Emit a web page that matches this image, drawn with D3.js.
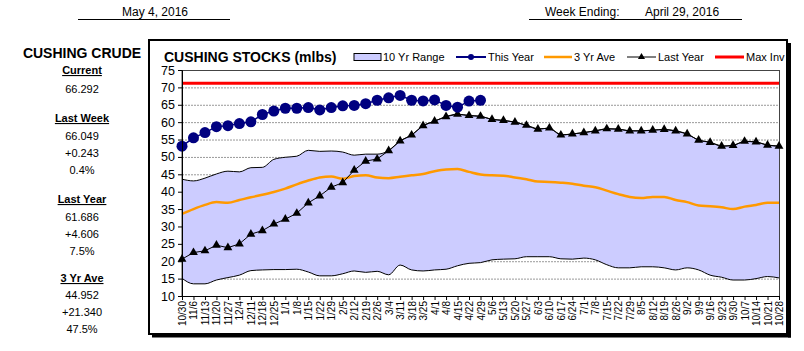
<!DOCTYPE html>
<html><head><meta charset="utf-8">
<script src="https://cdn.jsdelivr.net/npm/d3@7/dist/d3.min.js"></script>
<style>
body{margin:0;background:#fff;}
svg{display:block;font-family:"Liberation Sans",Arial,Helvetica,sans-serif;}
</style></head>
<body><svg id="c" width="804" height="351"></svg>
<script>
const categories = ["10/30","11/6","11/13","11/20","11/27","12/4","12/11","12/18","12/25","1/1","1/8","1/15","1/22","1/29","2/5","2/12","2/19","2/26","3/4","3/11","3/18","3/25","4/1","4/8","4/15","4/22","4/29","5/6","5/13","5/20","5/27","6/3","6/10","6/17","6/24","7/1","7/8","7/15","7/22","7/29","8/5","8/12","8/19","8/26","9/2","9/9","9/16","9/23","9/30","10/7","10/14","10/21","10/28"];
const thisYear = [53.1,55.5,57.0,58.7,59.0,59.6,60.1,62.2,63.2,64.0,64.0,64.2,63.5,64.2,64.7,64.8,65.3,66.3,67.0,67.7,66.3,66.1,66.4,64.8,64.3,66.049,66.292];
const lastYear = [20.6,22.5,23.0,24.6,23.9,25.0,27.8,28.8,30.7,32.1,33.8,36.8,38.8,41.3,42.6,46.2,48.8,49.4,51.8,54.6,56.3,59.0,60.3,61.6,62.3,61.9,61.686,60.8,60.5,60.0,59.1,58.0,58.3,56.3,56.6,57.0,57.5,58.1,58.0,57.5,57.5,57.7,57.9,57.5,56.6,54.8,54.2,53.1,53.3,54.5,54.3,53.4,53.1];
const threeYrAve = [33.6,35.0,36.2,37.0,36.8,37.6,38.4,39.1,39.9,40.9,42.1,43.2,44.1,44.4,43.7,44.5,44.7,44.1,43.9,44.3,44.7,45.1,45.9,46.4,46.5,45.7,44.952,44.7,44.6,44.1,43.6,42.9,42.8,42.6,42.3,41.7,41.3,40.3,39.3,38.5,38.2,38.5,38.5,37.6,37.0,36.0,35.8,35.5,35.0,35.7,36.2,36.8,36.8];
const rangeHigh = [43.6,43.1,43.9,45.1,45.9,45.7,46.9,47.0,49.3,49.9,50.2,51.9,51.6,51.7,51.4,50.5,50.8,50.8,51.8,54.6,56.3,59.0,60.3,61.6,62.3,61.9,61.7,60.8,60.5,60.0,59.1,58.0,58.3,56.3,56.6,57.0,57.5,58.1,58.0,57.5,57.5,57.7,57.9,57.5,56.6,54.8,54.2,53.1,53.3,54.5,54.3,53.4,53.1];
const rangeLow = [15.1,13.5,13.5,14.6,15.3,16.0,17.3,17.5,17.6,17.6,17.7,16.9,15.8,15.8,16.4,17.2,16.8,17.1,16.1,18.9,17.5,17.2,17.5,17.7,18.7,19.4,19.6,20.4,20.6,20.7,21.3,21.3,21.3,20.7,20.6,20.9,20.4,19.0,18.1,18.1,18.4,18.4,18.1,17.5,18.1,17.5,16.0,15.4,14.6,14.6,15.0,15.6,15.2];
const maxInv = 71.2;
const yTicks = [10,15,20,25,30,35,40,45,50,55,60,65,70,75];
const legendLabels = ["10 Yr Range","This Year","3 Yr Ave","Last Year","Max Inv"];
const panelTitle = "CUSHING CRUDE";
const panelItems = [
  {t:"Current",h:true},{t:"66.292"},
  {t:"Last Week",h:true},{t:"66.049"},{t:"+0.243"},{t:"0.4%"},
  {t:"Last Year",h:true},{t:"61.686"},{t:"+4.606"},{t:"7.5%"},
  {t:"3 Yr Ave",h:true},{t:"44.952"},{t:"+21.340"},{t:"47.5%"}
];
const reportDate = "May 4, 2016";
const weekEndingLabel = "Week Ending:";
const weekEndingDate = "April 29, 2016";
const chartTitle = "CUSHING STOCKS (mlbs)";

const svg = d3.select("#c");
const L=182, R=779, T=70, B=296;
const x = d3.scalePoint().domain(categories).range([L,R]);
const y = d3.scaleLinear().domain([10,75]).range([B,T]);

// header
svg.append("text").attr("x",155).attr("y",16).attr("text-anchor","middle").attr("font-size",12).text(reportDate);
svg.append("line").attr("x1",78).attr("x2",230).attr("y1",19.5).attr("y2",19.5).attr("stroke","#000").attr("stroke-width",1.2);
svg.append("text").attr("x",545).attr("y",16).attr("font-size",12).text(weekEndingLabel);
svg.append("text").attr("x",645).attr("y",16).attr("font-size",12).text(weekEndingDate);
svg.append("line").attr("x1",529).attr("x2",742).attr("y1",19.5).attr("y2",19.5).attr("stroke","#000").attr("stroke-width",1.2);

// left panel
svg.append("text").attr("x",82).attr("y",58).attr("text-anchor","middle").attr("font-size",14).attr("font-weight","bold").text(panelTitle);
const panelY = [70,89,118,136,153,170,199,217,234,251,278,295,312,329];
panelItems.forEach((d,i)=>{
  const t = svg.append("text").attr("x",82).attr("y",panelY[i]+4).attr("text-anchor","middle")
    .attr("font-size",11).attr("font-weight",d.h?"bold":"normal").text(d.t);
  if(d.h){ t.attr("text-decoration","underline"); }
});

// frame with shadow
svg.append("rect").attr("x",149).attr("y",40).attr("width",638).attr("height",294).attr("fill","none").attr("stroke","#000").attr("stroke-width",2);
svg.append("line").attr("x1",789.5).attr("x2",789.5).attr("y1",43).attr("y2",337.5).attr("stroke","#000").attr("stroke-width",3);
svg.append("line").attr("x1",152).attr("x2",791).attr("y1",336).attr("y2",336).attr("stroke","#000").attr("stroke-width",3);

// title & legend
svg.append("text").attr("x",164).attr("y",62).attr("font-size",14).attr("font-weight","bold").text(chartTitle);
const lg = svg.append("g").attr("font-size",11);
const ly = 57;
lg.append("rect").attr("x",354).attr("y",ly-3.5).attr("width",27).attr("height",7).attr("fill","#ccccff").attr("stroke","#000").attr("stroke-width",1);
lg.append("text").attr("x",383).attr("y",ly+4).text(legendLabels[0]);
lg.append("line").attr("x1",456).attr("x2",486).attr("y1",ly).attr("y2",ly).attr("stroke","#000080").attr("stroke-width",2);
lg.append("circle").attr("cx",471).attr("cy",ly).attr("r",3).attr("fill","#000080");
lg.append("text").attr("x",488).attr("y",ly+4).text(legendLabels[1]);
lg.append("line").attr("x1",544).attr("x2",572).attr("y1",ly).attr("y2",ly).attr("stroke","#ff9900").attr("stroke-width",2.5);
lg.append("text").attr("x",574).attr("y",ly+4).text(legendLabels[2]);
lg.append("line").attr("x1",627).attr("x2",656).attr("y1",ly).attr("y2",ly).attr("stroke","#000").attr("stroke-width",1);
lg.append("path").attr("d",d3.symbol(d3.symbolTriangle,22)()).attr("transform",`translate(641.5,${ly})`).attr("fill","#000");
lg.append("text").attr("x",658).attr("y",ly+4).text(legendLabels[3]);
lg.append("line").attr("x1",715).attr("x2",744).attr("y1",ly).attr("y2",ly).attr("stroke","#ff0000").attr("stroke-width",3);
lg.append("text").attr("x",746).attr("y",ly+4).text(legendLabels[4]);

// gridlines
svg.append("g").selectAll("line").data(yTicks.filter(v=>v>10&&v<75)).join("line")
  .attr("x1",L).attr("x2",R).attr("y1",d=>y(d)+0.5).attr("y2",d=>y(d)+0.5)
  .attr("stroke","#999").attr("stroke-dasharray","2,1").attr("stroke-width",1);

// plot border
svg.append("rect").attr("x",L).attr("y",T+0.5).attr("width",R-L+0.5).attr("height",B-T).attr("fill","none").attr("stroke","#444").attr("stroke-width",1);

// 10yr range
const idx = d3.range(categories.length);
svg.append("path").datum(idx).attr("fill","#ccccff")
  .attr("d",d3.area().x(i=>x(categories[i])).y0(i=>y(rangeLow[i])).y1(i=>y(rangeHigh[i])).curve(d3.curveMonotoneX));
[rangeLow,rangeHigh].forEach(arr=>{
  svg.append("path").datum(idx).attr("fill","none").attr("stroke","#000").attr("stroke-width",1)
    .attr("d",d3.line().x(i=>x(categories[i])).y(i=>y(arr[i])).curve(d3.curveMonotoneX));
});

// max inv
svg.append("line").attr("x1",L).attr("x2",R).attr("y1",y(maxInv)).attr("y2",y(maxInv)).attr("stroke","#ff0000").attr("stroke-width",3);

// 3yr ave
svg.append("path").datum(idx).attr("fill","none").attr("stroke","#ff9900").attr("stroke-width",2.5)
  .attr("d",d3.line().x(i=>x(categories[i])).y(i=>y(threeYrAve[i])).curve(d3.curveMonotoneX));

// last year
svg.append("path").datum(idx).attr("fill","none").attr("stroke","#000").attr("stroke-width",1)
  .attr("d",d3.line().x(i=>x(categories[i])).y(i=>y(lastYear[i])));
svg.append("g").selectAll("path").data(idx).join("path")
  .attr("d",d3.symbol(d3.symbolTriangle,34)())
  .attr("transform",i=>`translate(${x(categories[i])},${y(lastYear[i])})`).attr("fill","#000");

// this year
const tyIdx = d3.range(thisYear.length);
svg.append("path").datum(tyIdx).attr("fill","none").attr("stroke","#000080").attr("stroke-width",1.5)
  .attr("d",d3.line().x(i=>x(categories[i])).y(i=>y(thisYear[i])));
svg.append("g").selectAll("circle").data(tyIdx).join("circle")
  .attr("cx",i=>x(categories[i])).attr("cy",i=>y(thisYear[i])).attr("r",5.5).attr("fill","#000080");

// axes
const ya = svg.append("g").attr("transform",`translate(${L},0)`)
  .call(d3.axisLeft(y).tickValues(yTicks).tickSize(4).tickPadding(3).tickFormat(d3.format("d")));
ya.select(".domain").attr("stroke","#000");
ya.selectAll("text").attr("font-size",12.5).attr("font-family","Liberation Sans,Arial,sans-serif").attr("fill","#000");
const xa = svg.append("g").attr("transform",`translate(0,${B})`)
  .call(d3.axisBottom(x).tickSize(4).tickSizeOuter(0));
xa.select(".domain").attr("stroke","#000");
xa.selectAll("text").attr("font-size",10).attr("font-family","Liberation Sans,Arial,sans-serif").attr("fill","#000")
  .attr("transform","rotate(-90)").attr("text-anchor","end").attr("x",-5).attr("y",0).attr("dy","0.35em");
</script></body></html>
